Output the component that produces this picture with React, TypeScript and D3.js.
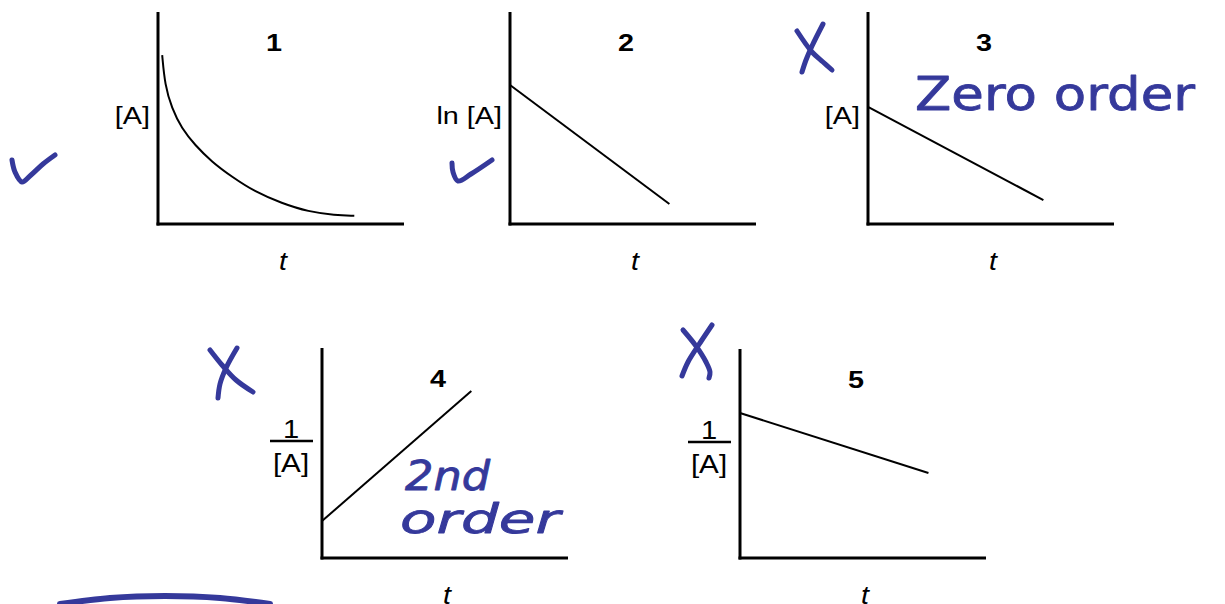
import React from "react";
import * as d3 from "d3";

// panel ids and axis labels
const panelIds = ["1", "2", "3", "4", "5"];
const yLabels = ["[A]", "ln [A]", "[A]", "1/[A]", "1/[A]"];
const xLabel = "t";

// values (axis domain 0..10 on both axes)
const curve1T = [0.17, 0.28, 0.56, 0.96, 1.5, 2.18, 3.0, 3.94, 5.03, 6.11, 7.2, 7.98];
const curve1Y = [7.97, 6.56, 5.46, 4.51, 3.73, 2.94, 2.23, 1.52, 0.98, 0.58, 0.42, 0.39];
const line2T = [0, 6.48];
const line2Y = [6.56, 0.94];
const line3T = [0, 7.13];
const line3Y = [5.52, 1.13];
const line4T = [0, 6.07];
const line4Y = [1.76, 7.95];
const line5T = [0, 7.66];
const line5Y = [6.94, 4.07];

const seriesT = [curve1T, line2T, line3T, line4T, line5T];
const seriesY = [curve1Y, line2Y, line3Y, line4Y, line5Y];

// handwritten notes
const notes = ["Zero order", "2nd", "order"];

// layout of each panel (left axis x, top, bottom)
const layout = [
  { x: 158, top: 12, bottom: 224 },
  { x: 510, top: 12, bottom: 224 },
  { x: 868, top: 12, bottom: 224 },
  { x: 322, top: 348, bottom: 558 },
  { x: 740, top: 349, bottom: 558 },
];
const panelW = 246;

const INK = "#35399b";
const FONT = "'Liberation Sans', Arial, sans-serif";

// pen strokes (check marks, crosses, arc)
const strokes: [number, number][][] = [
  [[12, 160], [15, 172], [22, 182], [31, 175], [43, 164], [55, 155]],
  [[452, 163], [453, 172], [458, 181], [471, 174], [492, 160]],
  [[797, 31], [812, 52], [823, 62], [832, 70]],
  [[823, 24], [812, 46], [806, 60], [802, 72]],
  [[210, 350], [222, 365], [236, 380], [253, 392]],
  [[237, 348], [226, 368], [220, 384], [218, 398]],
  [[683, 330], [696, 346], [706, 362], [710, 372], [709, 378]],
  [[712, 325], [698, 346], [688, 362], [682, 376]],
  [[60, 604], [110, 598], [165, 596], [220, 598], [270, 604]],
];

// text drawn a little wider than the font, like the scanned original
function Wide({ x, y, sx = 1.18, anchor = "middle", size = 24, bold = false, italic = false, children }: any) {
  return (
    <g transform={`translate(${x},${y}) scale(${sx},1)`}>
      <text
        textAnchor={anchor}
        fontFamily={FONT}
        fontSize={size}
        fontWeight={bold ? "bold" : "normal"}
        fontStyle={italic ? "italic" : "normal"}
        fill="#000"
      >
        {children}
      </text>
    </g>
  );
}

function Panel({ i }: { i: number }) {
  const L = layout[i];
  const x = d3.scaleLinear().domain([0, 10]).range([L.x, L.x + panelW]);
  const y = d3.scaleLinear().domain([0, 10]).range([L.bottom, L.top]);
  const pts = seriesT[i].map((t, k) => [t, seriesY[i][k]] as [number, number]);
  const gen = d3
    .line<[number, number]>()
    .x((d) => x(d[0]))
    .y((d) => y(d[1]))
    .curve(i === 0 ? d3.curveBasis : d3.curveLinear);
  const lab = yLabels[i];
  const isFrac = lab.startsWith("1/");
  return (
    <g>
      <line x1={L.x} x2={L.x} y1={L.top} y2={L.bottom + 1.5} stroke="#000" strokeWidth={3} />
      <line x1={L.x - 1.5} x2={L.x + panelW} y1={L.bottom} y2={L.bottom} stroke="#000" strokeWidth={3} />
      <path d={gen(pts) || ""} fill="none" stroke="#000" strokeWidth={2} />
      <Wide x={L.x + 116} y={L.top + 39} size={24} bold sx={1.2}>
        {panelIds[i]}
      </Wide>
      {isFrac ? (
        <g>
          <Wide x={L.x - 31} y={L.top + 90} size={26} sx={1.12}>1</Wide>
          <line x1={L.x - 52} x2={L.x - 9} y1={L.top + 93} y2={L.top + 93} stroke="#000" strokeWidth={2.5} />
          <Wide x={L.x - 31} y={L.top + 124} size={26} sx={1.14}>{lab.slice(2)}</Wide>
        </g>
      ) : (
        <Wide x={L.x - 8} y={L.top + 112} anchor="end" size={24} sx={1.2}>
          {lab}
        </Wide>
      )}
      <Wide x={L.x + 125} y={L.bottom + 46} size={26} italic sx={1.1}>
        {xLabel}
      </Wide>
    </g>
  );
}

export default function App() {
  const pen = d3.line().curve(d3.curveCatmullRom);
  return (
    <svg width={1225} height={604} style={{ position: "absolute", left: 0, top: 0, background: "#fff" }}>
      <rect width={1225} height={604} fill="#fff" />
      {panelIds.map((_, i) => (
        <Panel key={i} i={i} />
      ))}
      {strokes.map((s, k) => (
        <path key={k} d={pen(s) || ""} fill="none" stroke={INK} strokeWidth={k === 8 ? 6 : 5} strokeLinecap="round" strokeLinejoin="round" />
      ))}
      <g fill={INK} stroke={INK} strokeWidth={0.8} fontFamily="'DejaVu Sans', sans-serif" strokeLinejoin="round">
        <text x={915} y={110} fontSize={46} textLength={280} lengthAdjust="spacingAndGlyphs">
          {notes[0]}
        </text>
        <text x={405} y={490} fontSize={40} fontStyle="italic" textLength={85} lengthAdjust="spacingAndGlyphs">
          {notes[1]}
        </text>
        <text x={400} y={533} fontSize={40} fontStyle="italic" textLength={160} lengthAdjust="spacingAndGlyphs">
          {notes[2]}
        </text>
      </g>
    </svg>
  );
}
